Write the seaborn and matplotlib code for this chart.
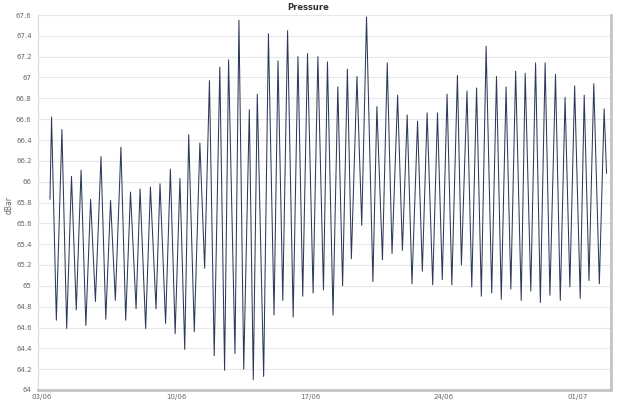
import numpy as np
import pandas as pd
import matplotlib
matplotlib.use("Agg")
import matplotlib.pyplot as plt
import matplotlib.dates as mdates
from matplotlib.ticker import FuncFormatter, MultipleLocator
import seaborn as sns

# Hours since 03/06 00:00 of each high / low water reading, and pressure (dBar)
hours = [10, 12, 18, 25, 31, 37, 43, 49, 55, 61, 67, 74, 80, 86, 92, 99, 105, 111, 118, 123,
         130, 136, 143, 148, 155, 161, 167, 173, 179, 184, 191, 198, 204, 210, 216, 223, 229, 234,
         242, 247, 253, 260, 265, 270, 278, 284, 291, 296, 302, 308, 315, 321, 327, 333, 340, 346,
         353, 358, 365, 371, 377, 383, 388, 395, 401, 407, 415, 420, 427, 433, 439, 446, 452, 458,
         464, 471, 477, 483, 490, 496, 502, 508, 514, 521, 526, 533, 539, 545, 551, 557, 564, 570,
         576, 582, 588, 594, 601, 606, 613, 619, 625, 631, 637, 644, 650, 656, 662, 668, 675, 680,
         686, 692, 699, 705, 708]
pressure = [65.83, 66.62, 64.67, 66.50, 64.59, 66.05, 64.77, 66.11, 64.62, 65.83, 64.85, 66.24,
            64.68, 65.82, 64.86, 66.33, 64.67, 65.90, 64.78, 65.93, 64.59, 65.95, 64.78, 65.98,
            64.64, 66.12, 64.54, 66.03, 64.39, 66.45, 64.56, 66.37, 65.17, 66.97, 64.33, 67.10,
            64.19, 67.17, 64.35, 67.55, 64.20, 66.69, 64.10, 66.84, 64.13, 67.42, 64.72, 67.16,
            64.86, 67.45, 64.70, 67.20, 64.90, 67.23, 64.93, 67.20, 64.96, 67.15, 64.72, 66.91,
            65.00, 67.08, 65.26, 67.01, 65.58, 67.58, 65.04, 66.72, 65.25, 67.14, 65.31, 66.83,
            65.34, 66.64, 65.02, 66.58, 65.14, 66.66, 65.01, 66.66, 65.06, 66.84, 65.01, 67.02,
            65.20, 66.87, 64.99, 66.90, 64.90, 67.30, 64.93, 67.01, 64.87, 66.91, 64.97, 67.06,
            64.86, 67.04, 64.95, 67.14, 64.84, 67.14, 64.91, 67.03, 64.86, 66.81, 64.99, 66.92,
            64.88, 66.83, 65.05, 66.94, 65.02, 66.70, 66.08]

start = pd.Timestamp("2013-06-03")
df = pd.DataFrame({"time": start + pd.to_timedelta(hours, unit="h"), "pressure": pressure})

sns.set_theme(style="white")
plt.rcParams["font.family"] = ["DejaVu Sans"]

fig = plt.figure(figsize=(6.17, 4.03), dpi=100)
ax = fig.add_axes([38 / 617, 1 - 390 / 403, (611 - 38) / 617, (390 - 15) / 403])

sns.lineplot(data=df, x="time", y="pressure", ax=ax, color="#2c3b5a", linewidth=0.75)

ax.set_ylim(64, 67.6)
ax.set_xlim(start - pd.Timedelta(hours=5), start + pd.Timedelta(hours=713.6))
ax.yaxis.set_major_locator(MultipleLocator(0.2))
ax.yaxis.set_major_formatter(FuncFormatter(lambda v, p: f"{v:.1f}".rstrip("0").rstrip(".")))
ax.xaxis.set_major_locator(mdates.WeekdayLocator(byweekday=mdates.MO))
ax.xaxis.set_major_formatter(mdates.DateFormatter("%d/%m"))

ax.grid(axis="y", color="#e8e8e8", linewidth=0.8)
ax.grid(axis="x", visible=False)
ax.set_xlabel("")
ax.set_ylabel("")
ax.tick_params(axis="both", labelsize=5, colors="#666666", length=3, width=0.6, pad=1.5)
ax.tick_params(axis="x", length=2, pad=1)

ax.spines["top"].set_visible(False)
ax.spines["left"].set_color("#dadada")
ax.spines["left"].set_linewidth(0.8)
ax.spines["right"].set_color("#c4c4c4")
ax.spines["right"].set_linewidth(2)
ax.spines["bottom"].set_color("#c4c4c4")
ax.spines["bottom"].set_linewidth(2)

fig.text(0.5, 1 - 8 / 403, "Pressure", ha="center", va="center", fontsize=6, fontweight="bold",
         color="#333333")
fig.text(9 / 617, 1 - 205 / 403, "dBar", ha="center", va="center", rotation=90, fontsize=5.5,
         color="#666666")

fig.savefig("out.png", dpi=100, facecolor="white")
